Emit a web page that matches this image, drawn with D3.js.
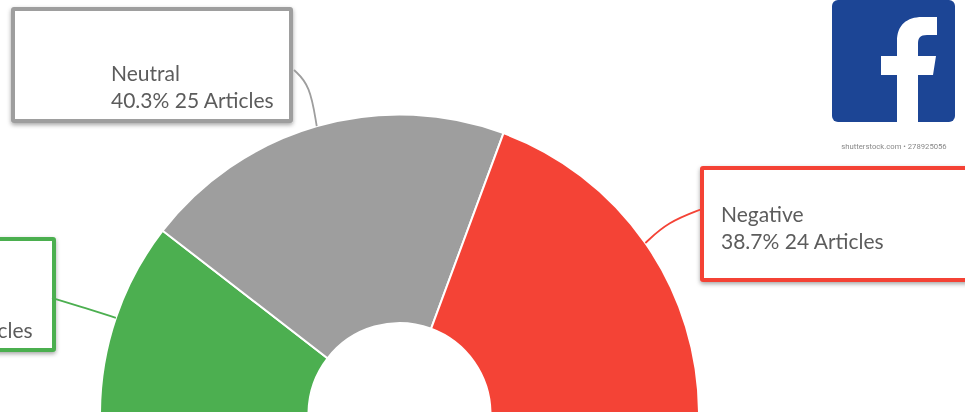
<!DOCTYPE html>
<html>
<head>
<meta charset="utf-8">
<script src="https://cdnjs.cloudflare.com/ajax/libs/d3/7.8.5/d3.min.js"></script>
<style>
  html, body { margin: 0; padding: 0; background: #fff; overflow: hidden; }
  svg { display: block; filter: blur(0.4px); }
</style>
</head>
<body>
<div id="chart"></div>
<script>
// data
const sentiments = ["Positive", "Neutral", "Negative"];
const articles = [13, 25, 24];
const percents = ["21.0%", "40.3%", "38.7%"];
const sliceColors = ["#4caf50", "#9e9e9e", "#f44336"];

const width = 965;
const height = 412;
const cx = 399.5;
const cy = 414;
const outerRadius = 299.5;
const innerRadius = 91;

// callout boxes, and where their leader lines start
const callouts = [
  { x: -240, y: 239, w: 294, h: 111, textX: -130, textY: 311, from: [52, 298], bend: [85, 308], angle: -1.244 },
  { x: 13, y: 9, w: 278, h: 112, textX: 111, textY: 81, from: [294, 70], bend: [310, 85], angle: -0.28 },
  { x: 702, y: 168, w: 300, h: 112, textX: 721, textY: 222, from: [702, 209], bend: [668, 222], angle: 0.963 }
];

const svg = d3.select("#chart")
  .append("svg")
  .attr("width", width)
  .attr("height", height)
  .attr("viewBox", `0 0 ${width} ${height}`);

const defs = svg.append("defs");
defs.append("filter")
  .attr("id", "shadow")
  .attr("x", "-10%").attr("y", "-10%")
  .attr("width", "120%").attr("height", "130%")
  .append("feDropShadow")
  .attr("dx", 0).attr("dy", 2)
  .attr("stdDeviation", 2)
  .attr("flood-color", "#000")
  .attr("flood-opacity", 0.35);
defs.append("filter")
  .attr("id", "soft")
  .append("feGaussianBlur")
  .attr("stdDeviation", 0.7);

// half donut
const pie = d3.pie()
  .sort(null)
  .startAngle(-Math.PI / 2)
  .endAngle(Math.PI / 2);
const arc = d3.arc()
  .innerRadius(innerRadius)
  .outerRadius(outerRadius);

const slices = pie(articles);

svg.append("g")
  .attr("transform", `translate(${cx},${cy})`)
  .selectAll("path")
  .data(slices)
  .join("path")
  .attr("d", arc)
  .attr("fill", (d, i) => sliceColors[i])
  .attr("stroke", "#fff")
  .attr("stroke-width", 2);

// callout boxes
const boxes = svg.append("g")
  .selectAll("g")
  .data(callouts)
  .join("g");

boxes.append("rect")
  .attr("x", d => d.x)
  .attr("y", d => d.y)
  .attr("width", d => d.w)
  .attr("height", d => d.h)
  .attr("rx", 1)
  .attr("fill", "#fff")
  .attr("stroke", (d, i) => sliceColors[i])
  .attr("stroke-width", 4)
  .attr("filter", "url(#shadow)");

// leader lines run from the box edge to the rim of the slice
const curve = d3.line().curve(d3.curveBasis);
svg.append("g")
  .selectAll("path")
  .data(callouts)
  .join("path")
  .attr("d", c => {
    const end = [cx + outerRadius * Math.sin(c.angle), cy - outerRadius * Math.cos(c.angle)];
    return curve([c.from, c.bend, end]);
  })
  .attr("fill", "none")
  .attr("stroke", (d, i) => sliceColors[i])
  .attr("stroke-width", 1.8);

const label = boxes.append("text")
  .attr("font-family", "Lato, sans-serif")
  .attr("font-size", 21)
  .attr("fill", "#5c5c5c");
label.append("tspan")
  .attr("x", d => d.textX)
  .attr("y", d => d.textY)
  .text((d, i) => sentiments[i]);
label.append("tspan")
  .attr("x", d => d.textX)
  .attr("y", d => d.textY + 27)
  .text((d, i) => `${percents[i]} ${articles[i]} Articles`);

// facebook logo, top right
const logo = svg.append("g").attr("transform", "translate(832,0)");
logo.append("rect")
  .attr("width", 123)
  .attr("height", 122)
  .attr("rx", 6)
  .attr("fill", "#1c4595");
logo.append("path")
  .attr("d", "M65 122V75H49V56H65V41C65 25 75 17 90 17H105V35H95C88 35 86 38 86 44V56H104L101 75H86V122Z")
  .attr("fill", "#fff")
  .attr("filter", "url(#soft)");
svg.append("text")
  .attr("x", 894)
  .attr("y", 149)
  .attr("text-anchor", "middle")
  .attr("font-family", "Roboto, sans-serif")
  .attr("font-size", 7.7)
  .attr("fill", "#888")
  .attr("filter", "url(#soft)")
  .text("shutterstock.com • 278925056");
</script>
</body>
</html>
